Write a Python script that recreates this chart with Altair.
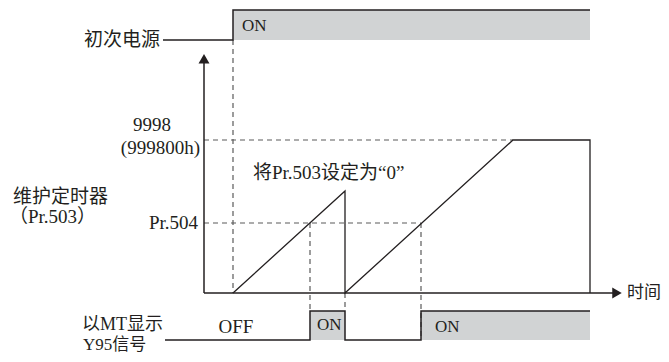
import altair as alt
import pandas as pd

# ---------------- data ----------------
MAX_COUNT = 9998          # 9998 (999800h)
PR504 = 4574              # Pr.504 level
PEAK_BEFORE_RESET = 6664  # timer value when Pr.503 is set to "0"

# event times (arbitrary time units along the time axis)
T_POWER_ON = 29
T_Y95_ON_1 = 106
T_RESET = 141
T_Y95_ON_2 = 217
T_REACH_MAX = 309
T_END = 386

timer_t = [T_POWER_ON, T_RESET, T_RESET, T_REACH_MAX, T_END, T_END]
timer_v = [0, PEAK_BEFORE_RESET, 0, MAX_COUNT, MAX_COUNT, 0]

power_t = [-41, T_POWER_ON, T_POWER_ON, T_END]
power_state = [0, 0, 1, 1]

y95_t = [-39, T_Y95_ON_1, T_Y95_ON_1, T_RESET, T_RESET, T_Y95_ON_2, T_Y95_ON_2, T_END]
y95_state = [0, 0, 1, 1, 0, 0, 1, 1]

# ---------------- layout (lanes, scales, styles) ----------------
W, H = 653, 346
X_DOMAIN = [-196, 457]
Y_DOMAIN = [-3986, 18624]
POWER_LOW, POWER_HIGH = 16533, 18493
Y95_LOW, Y95_HIGH = -3071, -1176
Y_AXIS_TOP = 15300
X_AXIS_END = 418

LINE = "#231f20"
DASH = "#5a5a5a"
FILL = "#d1d3d4"
FONT = "Liberation Serif, Noto Sans CJK SC"
FS = 19

xs = alt.Scale(domain=X_DOMAIN, nice=False, zero=False)
ys = alt.Scale(domain=Y_DOMAIN, nice=False, zero=False)


def X(f="t"):
    return alt.X(f"{f}:Q", scale=xs, axis=None)


def Y(f="v"):
    return alt.Y(f"{f}:Q", scale=ys, axis=None)


# signal fills
fills = pd.DataFrame({
    "t": [T_POWER_ON, T_Y95_ON_1, T_Y95_ON_2],
    "t2": [T_END, T_RESET, T_END],
    "v": [POWER_LOW, Y95_LOW, Y95_LOW],
    "v2": [POWER_HIGH, Y95_HIGH, Y95_HIGH],
})
fill_layer = alt.Chart(fills).mark_rect(color=FILL).encode(
    x=X(), x2="t2:Q", y=Y(), y2="v2:Q")

# signal lines
power_df = pd.DataFrame({"t": power_t,
                         "v": [POWER_LOW + s * (POWER_HIGH - POWER_LOW) for s in power_state],
                         "i": range(len(power_t))})
y95_df = pd.DataFrame({"t": y95_t,
                       "v": [Y95_LOW + s * (Y95_HIGH - Y95_LOW) for s in y95_state],
                       "i": range(len(y95_t))})
power_line = alt.Chart(power_df).mark_line(color=LINE, strokeWidth=1.5).encode(
    x=X(), y=Y(), order="i:Q")
y95_line = alt.Chart(y95_df).mark_line(color=LINE, strokeWidth=1.5).encode(
    x=X(), y=Y(), order="i:Q")

# timer
timer_df = pd.DataFrame({"t": timer_t, "v": timer_v, "i": range(len(timer_t))})
timer_line = alt.Chart(timer_df).mark_line(color=LINE, strokeWidth=1.3).encode(
    x=X(), y=Y(), order="i:Q")

# dashed guides
hdash = pd.DataFrame({"t": [0, 0], "t2": [T_REACH_MAX, T_Y95_ON_2], "v": [MAX_COUNT, PR504]})
hdash_layer = alt.Chart(hdash).mark_rule(color=DASH, strokeDash=[5, 4], strokeWidth=1.2).encode(
    x=X(), x2="t2:Q", y=Y())
vdash = pd.DataFrame({
    "t": [T_POWER_ON, T_Y95_ON_1, T_RESET, T_Y95_ON_2],
    "v": [POWER_LOW, PR504, 0, PR504],
    "v2": [0, Y95_HIGH, Y95_HIGH, Y95_LOW],
})
vdash_layer = alt.Chart(vdash).mark_rule(color=DASH, strokeDash=[5, 4], strokeWidth=1.2).encode(
    x=X(), y=Y(), y2="v2:Q")

# axes with arrows
axes_df = pd.DataFrame({"t": [0, 0], "t2": [0, X_AXIS_END - 8], "v": [0, 0], "v2": [Y_AXIS_TOP, 0]})
axes_layer = alt.Chart(axes_df).mark_rule(color=LINE, strokeWidth=1.5).encode(
    x=X(), x2="t2:Q", y=Y(), y2="v2:Q")
arrow_up = alt.Chart(pd.DataFrame({"t": [0], "v": [Y_AXIS_TOP]})).mark_point(
    shape="triangle-up", filled=True, size=120, color=LINE, opacity=1).encode(x=X(), y=Y())
arrow_right = alt.Chart(pd.DataFrame({"t": [X_AXIS_END - 5], "v": [0]})).mark_point(
    shape="triangle-right", filled=True, size=120, color=LINE, opacity=1).encode(x=X(), y=Y())

# text
labels_right = pd.DataFrame({
    "text": ["初次电源", "(999800h)", "Pr.504"],
    "t": [-44, -4, -6],
    "v": [POWER_LOW, 9475, PR504],
})
labels_right_small = pd.DataFrame({
    "text": ["以MT显示"],
    "t": [-41],
    "v": [-2091],
})
labels_center = pd.DataFrame({
    "text": ["9998", "OFF"],
    "t": [-52, 32],
    "v": [10978, -2222],
})
labels_left = pd.DataFrame({
    "text": ["维护定时器", "（Pr.503）", "将Pr.503设定为“0”"],
    "t": [-191, -195, 49],
    "v": [6273, 4966, 7842],
})
labels_left_small = pd.DataFrame({
    "text": ["Y95信号", "时间"],
    "t": [-121, 423],
    "v": [-3398, 0],
})
labels_on = pd.DataFrame({
    "text": ["ON", "ON", "ON"],
    "t": [38, 113, 231],
    "v": [17447, -2091, -2222],
})


def text_layer(df, align, size=FS):
    return alt.Chart(df).mark_text(align=align, baseline="middle", font=FONT,
                                   fontSize=size, color="#231f20").encode(
        x=X(), y=Y(), text="text:N")


chart = alt.layer(
    fill_layer, hdash_layer, vdash_layer, axes_layer, arrow_up, arrow_right,
    power_line, y95_line, timer_line,
    text_layer(labels_right, "right"), text_layer(labels_right_small, "right", 18),
    text_layer(labels_center, "center"),
    text_layer(labels_left, "left"), text_layer(labels_left_small, "left", 17),
    text_layer(labels_on, "left", 17),
).properties(
    width=W, height=H,
    autosize=alt.AutoSizeParams(type="none"),
    padding=0,
).configure_view(stroke=None)

chart.save("out.html", embed_options={"renderer": "svg", "actions": False})
